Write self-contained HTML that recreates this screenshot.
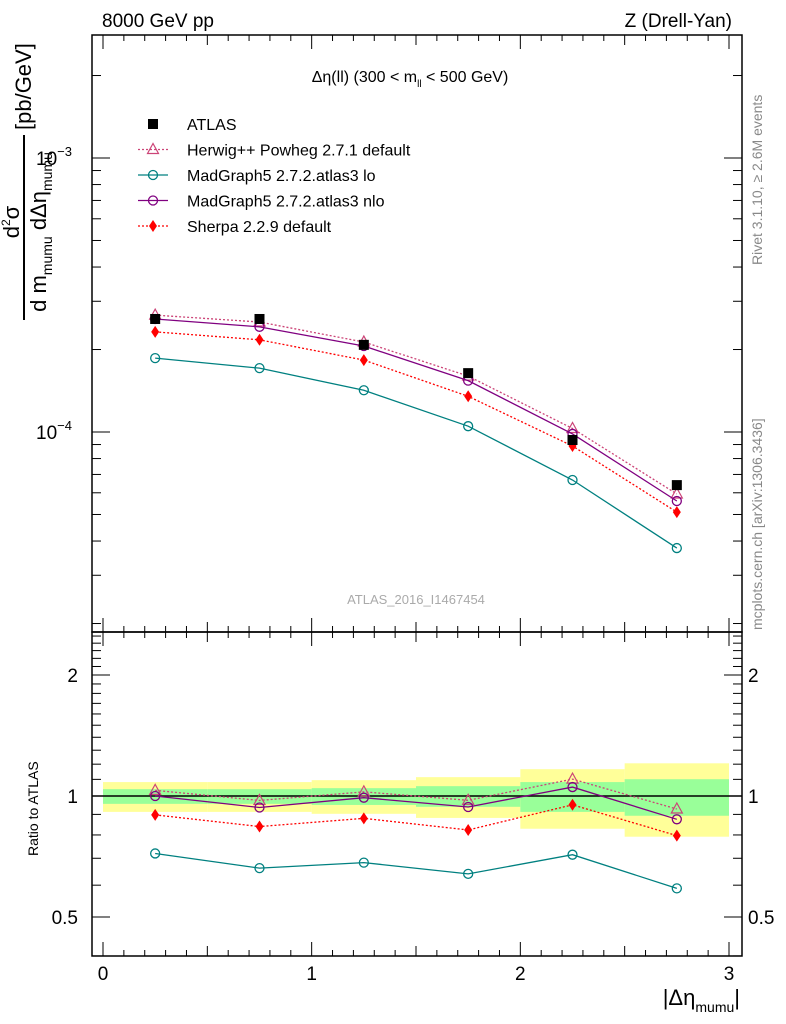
<!DOCTYPE html>
<html><head><meta charset="utf-8"><style>
body{margin:0;background:#fff}
svg{display:block;font-family:"Liberation Sans",sans-serif}
</style></head><body>
<svg id="c" width="786" height="1024" viewBox="0 0 786 1024" xmlns="http://www.w3.org/2000/svg">
<rect width="786" height="1024" fill="#fff"/>
<g id="bands"></g>
<g id="marks"></g>
<g id="axes" stroke="#000" fill="none"></g>
<g id="labels">
<text x="102" y="27" font-size="19">8000 GeV pp</text>
<text x="732" y="27" font-size="19" text-anchor="end">Z (Drell-Yan)</text>
<text x="410" y="82" font-size="16" text-anchor="middle">Δη(ll) (300 &lt; m<tspan font-size="10" dy="5">ll</tspan><tspan dy="-5"> &lt; 500 GeV)</tspan></text>
<text x="416" y="604" font-size="13" fill="#aaa" text-anchor="middle">ATLAS_2016_I1467454</text>
<text transform="translate(762,265) rotate(-90)" font-size="14" fill="#888">Rivet 3.1.10, ≥ 2.6M events</text>
<text transform="translate(762,630) rotate(-90)" font-size="14" fill="#888">mcplots.cern.ch [arXiv:1306.3436]</text>
<text transform="translate(38,856) rotate(-90)" font-size="14">Ratio to ATLAS</text>
<text x="740" y="1005" font-size="22" text-anchor="end">|Δη<tspan font-size="14" dy="7">mumu</tspan><tspan dy="-7">|</tspan></text>
<g>
<text transform="translate(19,222) rotate(-90)" font-size="22" text-anchor="middle">d<tspan font-size="12" dy="-9">2</tspan><tspan dy="9">σ</tspan></text>
<line x1="24" y1="135" x2="24" y2="320" stroke="#000" stroke-width="2"/>
<text transform="translate(46,232) rotate(-90)" font-size="22" text-anchor="middle">d m<tspan font-size="14" dy="6">mumu</tspan><tspan dy="-6"> dΔη</tspan><tspan font-size="14" dy="6">mumu</tspan></text>
<text transform="translate(31,130) rotate(-90)" font-size="22">[pb/GeV]</text>
</g>
</g>
<g id="legend"></g>
</svg>
<script>
const xEdges=[0,0.5,1,1.5,2,2.5,3];
const xCenters=[0.25,0.75,1.25,1.75,2.25,2.75];
const atlas=[2.585e-4,2.585e-4,2.08e-4,1.64e-4,9.35e-5,6.4e-5];
const herwig=[2.67e-4,2.52e-4,2.13e-4,1.60e-4,1.03e-4,5.94e-5];
const mglo=[1.86e-4,1.71e-4,1.42e-4,1.05e-4,6.68e-5,3.77e-5];
const mgnlo=[2.585e-4,2.42e-4,2.06e-4,1.54e-4,9.84e-5,5.6e-5];
const sherpa=[2.32e-4,2.17e-4,1.83e-4,1.35e-4,8.89e-5,5.1e-5];
const yellowUp=[1.083,1.083,1.095,1.114,1.166,1.206];
const yellowDn=[0.913,0.913,0.903,0.882,0.829,0.792];
const greenUp=[1.04,1.04,1.046,1.058,1.083,1.101];
const greenDn=[0.956,0.956,0.95,0.94,0.913,0.893];
const xTicks=[0,1,2,3];
const ratioTicks=[0.5,1,2];

const NS="http://www.w3.org/2000/svg";
const L=92,R=742,T=35,MB=632,RB=956;
const X=v=>103+v*(729-103)/3;
const Y=v=>158-(Math.log10(v)+3)*274;
const RY=v=>796-Math.log2(v)*121;
function mk(tag,attrs,parent){const e=document.createElementNS(NS,tag);for(const k in attrs)e.setAttribute(k,attrs[k]);document.getElementById(parent).appendChild(e);return e;}

for(let i=0;i<6;i++){
 let e=mk('rect',{x:X(xEdges[i]),y:RY(yellowUp[i]),width:X(xEdges[i+1])-X(xEdges[i]),height:RY(yellowDn[i])-RY(yellowUp[i]),fill:'#ffff99'},'bands');
 
 
 e=mk('rect',{x:X(xEdges[i]),y:RY(greenUp[i]),width:X(xEdges[i+1])-X(xEdges[i]),height:RY(greenDn[i])-RY(greenUp[i]),fill:'#99ff99'},'bands');
 
 
}
let ref=mk('line',{x1:L,x2:R,y1:RY(1),y2:RY(1),stroke:'#000','stroke-width':1.5},'bands');



function marker(type,x,y,color,parent,name){
 let e;
 if(type=='sq') e=mk('rect',{x:x-5,y:y-5,width:10,height:10,fill:'#000'},parent);
 else if(type=='tri') e=mk('polygon',{points:`${x},${y-6} ${x-5.5},${y+4} ${x+5.5},${y+4}`,fill:'none',stroke:color,'stroke-width':1.2},parent);
 else if(type=='circ') e=mk('circle',{cx:x,cy:y,r:4.5,fill:'none',stroke:color,'stroke-width':1.3},parent);
 else e=mk('polygon',{points:`${x},${y-6} ${x+4},${y} ${x},${y+6} ${x-4},${y}`,fill:color},parent);
 
 
}
const series=[
 {d:herwig,c:'#cc4477',dash:'2,2',m:'tri',n:'herwig'},
 {d:mglo,c:'#008080',dash:'',m:'circ',n:'madgraph-lo'},
 {d:mgnlo,c:'#800080',dash:'',m:'circ',n:'madgraph-nlo'},
 {d:sherpa,c:'#ff0000',dash:'2,2',m:'dia',n:'sherpa'}];
for(const s of series){
 const p1=s.d.map((v,i)=>X(xCenters[i])+','+Y(v)).join(' ');
 const p2=s.d.map((v,i)=>X(xCenters[i])+','+RY(v/atlas[i])).join(' ');
 for(const p of [p1,p2]){
  const e=mk('polyline',{points:p,fill:'none',stroke:s.c,'stroke-width':1.3,'stroke-dasharray':s.dash},'marks');
  
  
 }
 s.d.forEach((v,i)=>{marker(s.m,X(xCenters[i]),Y(v),s.c,'marks',s.n+'-point');marker(s.m,X(xCenters[i]),RY(v/atlas[i]),s.c,'marks',s.n+'-ratio-point');});
}
atlas.forEach((v,i)=>marker('sq',X(xCenters[i]),Y(v),'#000','marks','atlas-point'));

mk('rect',{x:L,y:T,width:R-L,height:MB-T,'stroke-width':1.5},'axes');
mk('rect',{x:L,y:MB,width:R-L,height:RB-MB,'stroke-width':1.5},'axes');
for(let v=0;v<=3.0001;v+=0.1){
 const major=Math.abs(v-Math.round(v))<1e-6, half=Math.abs(v*2-Math.round(v*2))<1e-6;
 const len=major?14:(half?10:6);
 for(const [y0,dir] of [[MB,-1],[T,1],[RB,-1],[MB,1]]){
  mk('line',{x1:X(v),x2:X(v),y1:y0,y2:y0+dir*len,'stroke-width':1},'axes');
 }
}
xTicks.forEach(v=>{const t=mk('text',{x:X(v),y:980,'font-size':19,'text-anchor':'middle',fill:'#000',stroke:'none'},'axes');t.textContent=v;});
for(let e=-5;e<=-2;e++)for(let m=1;m<=9;m++){
 const v=m*Math.pow(10,e),y=Y(v);if(y<T||y>MB)continue;
 const len=m==1?18:9;
 mk('line',{x1:L,x2:L+len,y1:y,y2:y},'axes');mk('line',{x1:R,x2:R-len,y1:y,y2:y},'axes');
}
[[-3,158],[-4,432]].forEach(([e,y])=>{const t=mk('text',{x:72,y:y+7,'font-size':19,'text-anchor':'end',fill:'#000',stroke:'none'},'axes');t.innerHTML='10<tspan font-size="13" dy="-9">−'+(-e)+'</tspan>';});
for(let v=0.4;v<=2.6;v+=0.1){
 const y=RY(v);if(y<MB||y>RB)continue;
 const major=[0.5,1,2].some(k=>Math.abs(k-v)<1e-6);const len=major?18:9;
 mk('line',{x1:L,x2:L+len,y1:y,y2:y},'axes');mk('line',{x1:R,x2:R-len,y1:y,y2:y},'axes');
}
ratioTicks.forEach(v=>{const y=RY(v);
 let t=mk('text',{x:78,y:y+7,'font-size':19,'text-anchor':'end',fill:'#000',stroke:'none'},'axes');t.textContent=v;
 t=mk('text',{x:748,y:y+7,'font-size':19,fill:'#000',stroke:'none'},'axes');t.textContent=v;});

const leg=[['ATLAS','sq','#000',''],['Herwig++ Powheg 2.7.1 default','tri','#cc4477','2,2'],['MadGraph5 2.7.2.atlas3 lo','circ','#008080',''],['MadGraph5 2.7.2.atlas3 nlo','circ','#800080',''],['Sherpa 2.2.9 default','dia','#ff0000','2,2']];
leg.forEach((l,i)=>{const y=124+i*25.5;
 if(i>0){const e=mk('line',{x1:138,x2:168,y1:y,y2:y,stroke:l[2],'stroke-width':1.3,'stroke-dasharray':l[3]},'legend');}
 marker(l[1],153,y,l[2],'legend','legend-marker');
 const t=mk('text',{x:187,y:y+6,'font-size':16},'legend');t.textContent=l[0];
 
 
});
</script>
</body></html>
